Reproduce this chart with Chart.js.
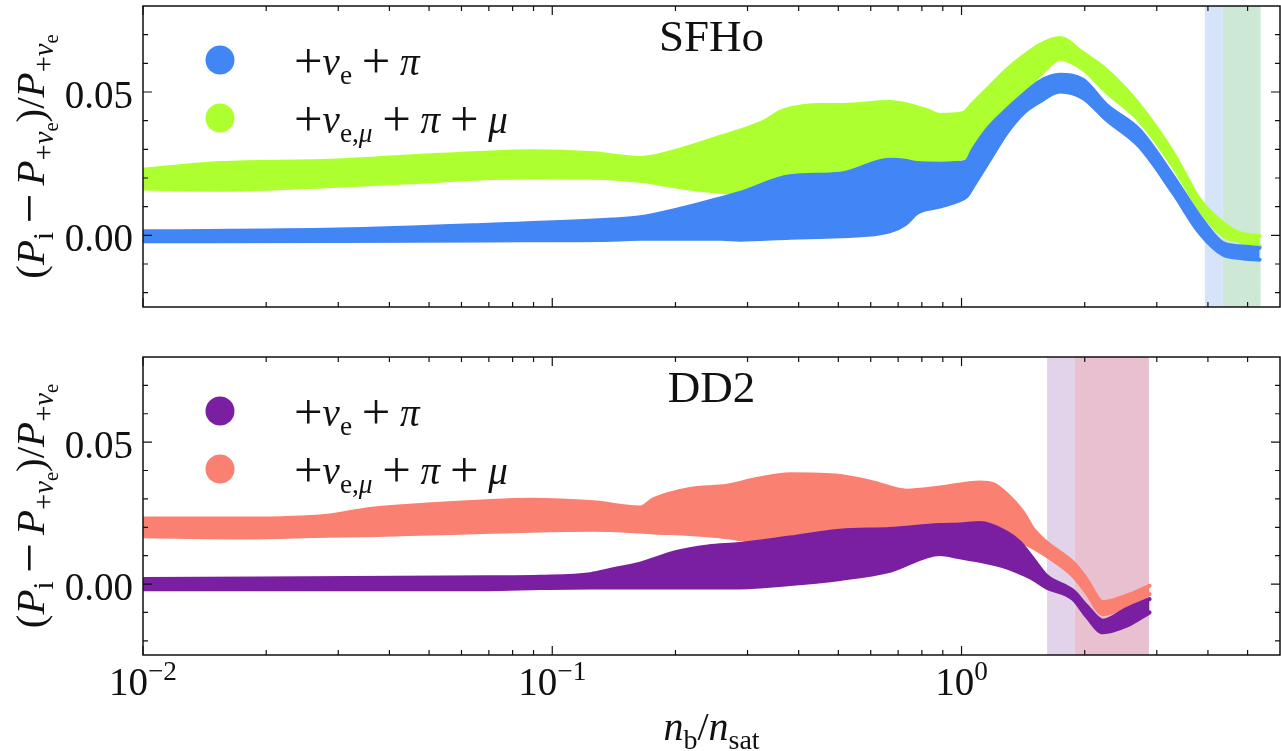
<!DOCTYPE html>
<html>
<head>
<meta charset="utf-8">
<script src="https://cdn.jsdelivr.net/npm/chart.js@4.4.1/dist/chart.umd.min.js"></script>
<style>
  body { margin: 0; background: #fff; }
  #wrap { position: relative; width: 1281px; height: 751px; }
  canvas { position: absolute; left: 0; }
</style>
</head>
<body>
<div id="wrap">
  <canvas id="topChart" width="1281" height="330" style="top:0"></canvas>
  <canvas id="bottomChart" width="1281" height="421" style="top:330px"></canvas>
</div>
<script>
// SFHo, +nu_e + pi (upper / lower edge of the point cloud)
const sfhoEX   = [0.01, 0.03, 0.07, 0.14, 0.164, 0.259, 0.2875, 0.381, 0.505, 0.668, 0.73, 0.778, 0.885, 0.972, 1.028, 1.067, 1.172, 1.288, 1.414, 1.553, 1.74, 1.98, 2.26, 2.72, 3.29, 3.82, 4.35, 4.78, 5.35];
const sfhoETop = [0.0014, 0.002, 0.0037, 0.0055, 0.0063, 0.013, 0.0148, 0.0206, 0.0215, 0.0264, 0.026, 0.0252, 0.025, 0.0252, 0.0258, 0.0299, 0.038, 0.0438, 0.049, 0.0537, 0.056, 0.0543, 0.0455, 0.0368, 0.0206, 0.0066, -0.0027, -0.0038, -0.0044];
const sfhoEBot = [-0.0021, -0.002, -0.0018, -0.0015, -0.0012, -0.0012, -0.0015, -0.0008, -0.0003, 0.0014, 0.004, 0.0078, 0.010, 0.0118, 0.0136, 0.0171, 0.0264, 0.0357, 0.0426, 0.0467, 0.0502, 0.0479, 0.0403, 0.031, 0.0148, 0.0008, -0.0067, -0.0079, -0.0085];

// SFHo, +nu_e,mu + pi + mu
const sfhoMuX   = [0.01, 0.0155, 0.0282, 0.0447, 0.0707, 0.089, 0.126, 0.164, 0.206, 0.259, 0.2875, 0.327, 0.366, 0.458, 0.517, 0.666, 0.818, 0.885, 1.007, 1.067, 1.172, 1.288, 1.414, 1.553, 1.74, 1.98, 2.26, 2.72, 3.29, 3.82, 4.35, 4.78, 5.35];
const sfhoMuTop = [0.0229, 0.0252, 0.026, 0.0275, 0.0289, 0.0293, 0.0286, 0.027, 0.030, 0.0345, 0.0365, 0.0395, 0.0435, 0.0455, 0.0455, 0.0465, 0.0438, 0.042, 0.0426, 0.0461, 0.0519, 0.0577, 0.0624, 0.0664, 0.0688, 0.0636, 0.0577, 0.0455, 0.0287, 0.0124, 0.0043, 0.0008, -0.0003];
const sfhoMuBot = [0.0163, 0.0159, 0.0171, 0.0185, 0.020, 0.0202, 0.0201, 0.019, 0.0168, 0.0152, 0.0148, 0.0152, 0.016, 0.017, 0.018, 0.020, 0.024, 0.025, 0.027, 0.028, 0.036, 0.043, 0.050, 0.056, 0.0615, 0.058, 0.050, 0.040, 0.024, 0.009, 0.000, -0.002, -0.0038];

// DD2, +nu_e + pi
const dd2EX   = [0.01, 0.07, 0.0933, 0.124, 0.141, 0.164, 0.2, 0.24, 0.287, 0.381, 0.505, 0.668, 0.885, 0.99, 1.108, 1.288, 1.388, 1.496, 1.612, 1.873, 2.018, 2.215, 2.53, 2.88];
const dd2ETop = [0.0018, 0.0024, 0.0026, 0.0035, 0.0052, 0.0072, 0.0112, 0.0132, 0.0141, 0.0164, 0.0188, 0.0194, 0.0208, 0.021, 0.0215, 0.0182, 0.0147, 0.0088, 0.0029, -0.0024, -0.0076, -0.0129, -0.0088, -0.0053];
const dd2EBot = [-0.0018, -0.0018, -0.0014, -0.0012, -0.0012, -0.0012, -0.0012, -0.0012, -0.0012, 0.0, 0.0018, 0.0047, 0.0106, 0.0094, 0.0082, 0.0059, 0.004, 0.0018, -0.0012, -0.0053, -0.0112, -0.017, -0.0147, -0.010];

// DD2, +nu_e,mu + pi + mu
const dd2MuX   = [0.01, 0.0177, 0.0282, 0.0355, 0.0447, 0.0707, 0.089, 0.126, 0.164, 0.177, 0.217, 0.267, 0.316, 0.381, 0.505, 0.608, 0.734, 0.885, 1.108, 1.194, 1.288, 1.414, 1.496, 1.612, 1.873, 2.018, 2.215, 2.53, 2.88];
const dd2MuTop = [0.0231, 0.0231, 0.0241, 0.0264, 0.0276, 0.0293, 0.0297, 0.0288, 0.027, 0.0299, 0.0335, 0.0346, 0.037, 0.0387, 0.0381, 0.0358, 0.0329, 0.034, 0.0358, 0.0352, 0.0317, 0.0252, 0.0194, 0.0147, 0.0076, 0.0018, -0.0064, -0.0041, -0.0006];
const dd2MuBot = [0.0168, 0.0164, 0.017, 0.0172, 0.0176, 0.0184, 0.0188, 0.0191, 0.0185, 0.0182, 0.0176, 0.0165, 0.015, 0.014, 0.016, 0.018, 0.019, 0.020, 0.020, 0.019, 0.017, 0.0147, 0.0129, 0.010, 0.0029, -0.0029, -0.0106, -0.0076, -0.0035];

// shaded density ranges
const sfhoSpans = [[3.93, 4.35], [4.35, 5.38]];
const dd2Spans  = [[1.618, 1.891], [1.891, 2.87]];

// ticks
const xMajor = [0.01, 0.1, 1];
const xMajorExp = ['\u22122', '\u22121', '0'];
const xMinor = [0.02, 0.03, 0.04, 0.05, 0.06, 0.07, 0.08, 0.09, 0.2, 0.3, 0.4, 0.5, 0.6, 0.7, 0.8, 0.9, 2, 3, 4, 5];
const yMajor = [0, 0.05];
const yMajorLabels = ['0.00', '0.05'];
const yMinor = [-0.02, -0.01, 0.01, 0.02, 0.03, 0.04, 0.06, 0.07];

const BLUE = '#4285F4', GREEN = '#ADFF2F', PURPLE = '#7B1FA2', SALMON = '#FA8072';
const FONT = '"Liberation Serif", "DejaVu Serif", serif';

function pts(xs, ys) { return xs.map((x, i) => ({ x: x, y: ys[i] })); }

// rich text pieces: t text, i italic, s scale, dy shift (em, +down)
function R(t, s, dy) { return { t: t, i: false, s: s || 1, dy: dy || 0 }; }
function I(t, s, dy) { return { t: t, i: true, s: s || 1, dy: dy || 0 }; }
// wide binary operator, a bit like the TeX one
function OP(t, pad) { return { t: t, i: false, s: 1.3, dy: 0.075, pad: pad === undefined ? 0.25 : pad }; }

function setFont(ctx, p, size) {
  ctx.font = (p.i ? 'italic ' : '') + (size * p.s).toFixed(1) + 'px ' + FONT;
}
function partWidth(ctx, p, size) {
  setFont(ctx, p, size);
  return ctx.measureText(p.t).width + 2 * (p.pad || 0) * size;
}
function richWidth(ctx, parts, size) {
  return parts.reduce((w, p) => w + partWidth(ctx, p, size), 0);
}
function drawRich(ctx, parts, x, y, size, align) {
  let cx = align === 'center' ? x - richWidth(ctx, parts, size) / 2 : x;
  ctx.textAlign = 'left';
  ctx.textBaseline = 'alphabetic';
  parts.forEach(p => {
    const w = partWidth(ctx, p, size);
    setFont(ctx, p, size);
    ctx.fillText(p.t, cx + (p.pad || 0) * size, y + p.dy * size);
    cx += w;
  });
}

const SUB = 0.7, SD = 0.22;
const yTitle = [R('('), I('P'), R('i', SUB, SD), OP('\u2212', 0.2), I('P'), R('+', SUB, SD), I('\u03bd', SUB, SD), R('e', 0.5, 0.33),
  R(')'), R('/'), I('P'), R('+', SUB, SD), I('\u03bd', SUB, SD), R('e', 0.5, 0.33)];
const legE  = [OP('+', 0), I('\u03bd'), R('e', SUB, SD), OP('+'), I('\u03c0')];
const legMu = [OP('+', 0), I('\u03bd'), R('e,', SUB, SD), I('\u03bc', SUB, SD), OP('+'), I('\u03c0'), OP('+'), I('\u03bc')];
const xTitle = [I('n'), R('b', SUB, SD), R('/'), I('n'), R('sat', SUB, SD)];

const decor = {
  id: 'decor',
  beforeDatasetsDraw(chart, args, o) {
    const ctx = chart.ctx, a = chart.chartArea, xs = chart.scales.x;
    ctx.save();
    o.spans.forEach((s, i) => {
      const x0 = xs.getPixelForValue(s[0]), x1 = xs.getPixelForValue(s[1]);
      ctx.fillStyle = o.spanColors[i];
      ctx.fillRect(x0, a.top, x1 - x0, a.bottom - a.top);
    });
    ctx.restore();
  },
  afterDraw(chart, args, o) {
    const ctx = chart.ctx, a = chart.chartArea, xs = chart.scales.x, ys = chart.scales.y;
    ctx.save();
    ctx.strokeStyle = '#111';
    ctx.fillStyle = '#111';
    ctx.lineWidth = 1.5;
    ctx.strokeRect(a.left, a.top, a.right - a.left, a.bottom - a.top);
    ctx.lineWidth = 1.2;
    const tick = (vals, len) => {
      vals.forEach(v => {
        const py = ys.getPixelForValue(v);
        ctx.beginPath();
        ctx.moveTo(a.left, py); ctx.lineTo(a.left + len, py);
        ctx.moveTo(a.right, py); ctx.lineTo(a.right - len, py);
        ctx.stroke();
      });
    };
    const xtick = (vals, len) => {
      vals.forEach(v => {
        const px = xs.getPixelForValue(v);
        ctx.beginPath();
        ctx.moveTo(px, a.bottom); ctx.lineTo(px, a.bottom - len);
        ctx.moveTo(px, a.top); ctx.lineTo(px, a.top + len);
        ctx.stroke();
      });
    };
    tick(yMajor, 9); tick(yMinor, 5);
    xtick(xMajor, 9); xtick(xMinor, 5);

    // y tick labels
    ctx.textAlign = 'right';
    ctx.textBaseline = 'alphabetic';
    ctx.font = '39px ' + FONT;
    yMajor.forEach((v, i) => ctx.fillText(yMajorLabels[i], a.left - 10, ys.getPixelForValue(v) + 16));

    // x tick labels and title only under the lower panel
    if (o.xLabels) {
      xMajor.forEach((v, i) => {
        drawRich(ctx, [R('10'), R(xMajorExp[i], SUB, -0.385)], xs.getPixelForValue(v), a.bottom + 40, 39, 'center');
      });
      drawRich(ctx, xTitle, (a.left + a.right) / 2, a.bottom + 85, 40, 'center');
    }

    // y axis title
    ctx.save();
    ctx.translate(44, (a.top + a.bottom) / 2);
    ctx.rotate(-Math.PI / 2);
    drawRich(ctx, yTitle, 0, 0, 41, 'center');
    ctx.restore();

    // panel label
    ctx.textAlign = 'center';
    ctx.font = '45px ' + FONT;
    ctx.fillText(o.label, (a.left + a.right) / 2, a.top + 45);

    // legend
    o.legend.forEach((e, i) => {
      const cy = a.top + 54 + i * 58;
      ctx.fillStyle = e.color;
      ctx.beginPath();
      ctx.arc(a.left + 77, cy, 14.5, 0, Math.PI * 2);
      ctx.fill();
      ctx.fillStyle = '#111';
      drawRich(ctx, e.text, a.left + 151, cy + 15, 39, 'left');
    });
    ctx.restore();
  }
};

function bandSets(x, top, bot, color) {
  const common = { borderColor: color, backgroundColor: color, borderWidth: 4, pointRadius: 0,
    cubicInterpolationMode: 'monotone', borderCapStyle: 'round', borderJoinStyle: 'round' };
  return [
    Object.assign({ data: pts(x, top), fill: '+1' }, common),
    Object.assign({ data: pts(x, bot), fill: false }, common)
  ];
}

function makeChart(id, sets, pad, o) {
  return new Chart(document.getElementById(id), {
    type: 'line',
    data: { datasets: sets },
    plugins: [decor],
    options: {
      responsive: false,
      animation: false,
      devicePixelRatio: 1,
      layout: { padding: pad },
      scales: {
        x: { type: 'logarithmic', min: 0.01, max: 6, display: false },
        y: { type: 'linear', min: -0.025, max: 0.08, display: false }
      },
      plugins: { legend: { display: false }, tooltip: { enabled: false }, decor: o }
    }
  });
}

// first datasets are drawn last (on top)
makeChart('topChart',
  bandSets(sfhoEX, sfhoETop, sfhoEBot, BLUE).concat(bandSets(sfhoMuX, sfhoMuTop, sfhoMuBot, GREEN)),
  { left: 143, right: 1, top: 6, bottom: 23 },
  { label: 'SFHo', xLabels: false, spans: sfhoSpans, spanColors: ['#d6e4fa', '#cde9d6'],
    legend: [{ color: BLUE, text: legE }, { color: GREEN, text: legMu }] });

makeChart('bottomChart',
  bandSets(dd2EX, dd2ETop, dd2EBot, PURPLE).concat(bandSets(dd2MuX, dd2MuTop, dd2MuBot, SALMON)),
  { left: 143, right: 1, top: 27, bottom: 96 },
  { label: 'DD2', xLabels: true, spans: dd2Spans, spanColors: ['#e3d3ea', '#e9c0d0'],
    legend: [{ color: PURPLE, text: legE }, { color: SALMON, text: legMu }] });
</script>
</body>
</html>
